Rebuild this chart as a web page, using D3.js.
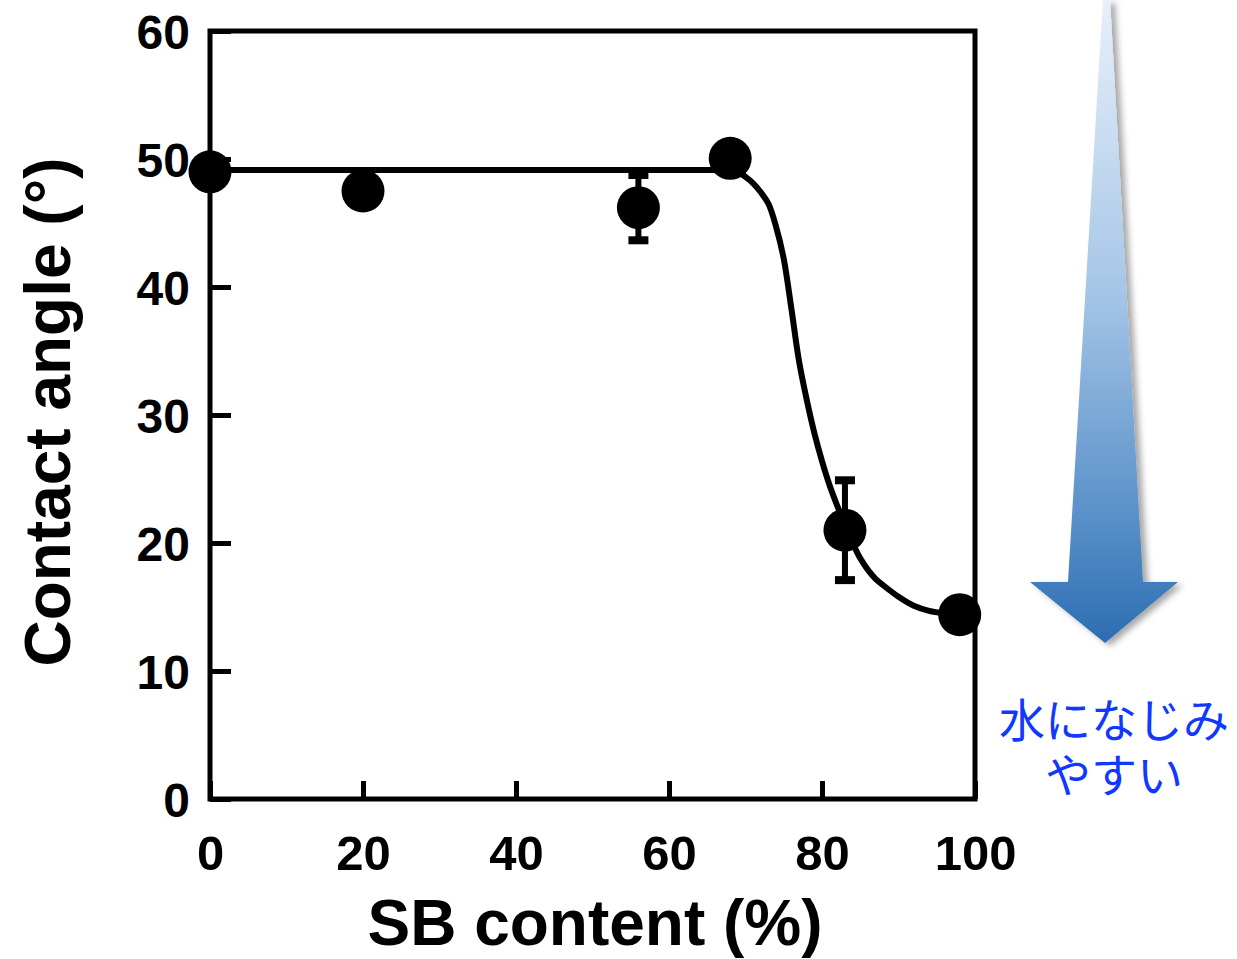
<!DOCTYPE html>
<html>
<head>
<meta charset="utf-8">
<script src="https://cdn.jsdelivr.net/npm/d3@7/dist/d3.min.js"></script>
<style>
  html, body { margin: 0; padding: 0; background: #fff; }
  svg { display: block; }
</style>
</head>
<body>
<svg id="chart" width="1237" height="959"></svg>
<script>
// ---- data ----
const sbContent = [0, 20, 56, 68, 83, 98];
const contactAngle = [49.0, 47.5, 46.2, 50.05, 21.0, 14.4];
const angleError = [0.8, 0.6, 2.55, 0.4, 3.9, 0.5];

const fitX = [0, 66, 68, 69, 70, 71, 72, 73, 74, 75, 76, 77, 78, 79, 80, 81, 82, 83, 84, 85, 86, 87, 88, 90, 92, 94, 96, 98];
const fitY = [49.15, 49.15, 49.15, 49.0, 48.6, 48.1, 47.4, 46.5, 44.7, 42.2, 38.3, 34.2, 31.2, 28.6, 26.4, 24.5, 22.9, 21.4, 20.0, 18.8, 17.9, 17.2, 16.7, 15.8, 15.1, 14.7, 14.5, 14.4];

const xTicks = [0, 20, 40, 60, 80, 100];
const yTicks = [0, 10, 20, 30, 40, 50, 60];

const xTitle = "SB content (%)";
const yTitle = "Contact angle (°)";
const noteLines = ["水になじみ", "やすい"];

// ---- layout ----
const svg = d3.select("#chart");
const pL = 210, pR = 975, pT = 31, pB = 799;
const x = d3.scaleLinear().domain([0, 100]).range([pL, pR]);
const y = d3.scaleLinear().domain([0, 60]).range([pB, pT]);
const font = "'Liberation Sans', Arial, Helvetica, sans-serif";

// ---- arrow (decorative) ----
const defs = svg.append("defs");
const grad = defs.append("linearGradient").attr("id", "arrowGrad")
  .attr("x1", 0).attr("y1", 0).attr("x2", 0).attr("y2", 1);
grad.append("stop").attr("offset", "0%").attr("stop-color", "#e8f0fa");
grad.append("stop").attr("offset", "45%").attr("stop-color", "#a6c6e7");
grad.append("stop").attr("offset", "80%").attr("stop-color", "#5a91c9");
grad.append("stop").attr("offset", "100%").attr("stop-color", "#2c6db2");
const filt = defs.append("filter").attr("id", "shadow")
  .attr("x", "-30%").attr("y", "-5%").attr("width", "160%").attr("height", "115%");
filt.append("feDropShadow").attr("dx", 5).attr("dy", 3).attr("stdDeviation", 3)
  .attr("flood-color", "#000").attr("flood-opacity", 0.35);

const arrowPts = [[1103, 0], [1110, 0], [1143, 582], [1178, 582], [1105, 643], [1030, 582], [1068, 582]];
svg.append("path")
  .attr("d", d3.line()(arrowPts) + "Z")
  .attr("fill", "url(#arrowGrad)")
  .attr("filter", "url(#shadow)");

noteLines.forEach((t, i) => {
  svg.append("text")
    .attr("font-family", "'Noto Sans CJK JP', sans-serif")
    .attr("font-size", 46)
    .attr("fill", "#1038ff")
    .attr("text-anchor", "middle")
    .attr("x", 1114).attr("y", 737 + i * 55).text(t);
});

// ---- axes (ticks point inward) ----
const xAxis = svg.append("g").attr("transform", `translate(0,${pB})`)
  .call(d3.axisBottom(x).tickValues(xTicks).tickSizeInner(-18).tickSizeOuter(0).tickFormat(d3.format("d")));
xAxis.select(".domain").remove();
xAxis.selectAll("line").attr("stroke", "#000").attr("stroke-width", 5);
xAxis.selectAll("text")
  .attr("y", 71).attr("dy", 0)
  .attr("font-family", font).attr("font-weight", "bold").attr("font-size", 49).attr("fill", "#000");

const yAxis = svg.append("g").attr("transform", `translate(${pL},0)`)
  .call(d3.axisLeft(y).tickValues(yTicks).tickSizeInner(-21).tickSizeOuter(0).tickFormat(d3.format("d")));
yAxis.select(".domain").remove();
yAxis.selectAll("line").attr("stroke", "#000").attr("stroke-width", 5);
yAxis.selectAll("text")
  .attr("x", -20).attr("dy", "0.36em")
  .attr("font-family", font).attr("font-weight", "bold").attr("font-size", 48).attr("fill", "#000");

// frame
svg.append("rect")
  .attr("x", pL).attr("y", pT).attr("width", pR - pL).attr("height", pB - pT)
  .attr("fill", "none").attr("stroke", "#000").attr("stroke-width", 5);

// titles
svg.append("text")
  .attr("x", 595).attr("y", 945).attr("text-anchor", "middle")
  .attr("font-family", font).attr("font-weight", "bold").attr("font-size", 64)
  .text(xTitle);
svg.append("text")
  .attr("transform", "translate(70,412) rotate(-90)")
  .attr("text-anchor", "middle")
  .attr("font-family", font).attr("font-weight", "bold").attr("font-size", 64)
  .text(yTitle);

// ---- fit curve ----
const fitData = fitX.map((v, i) => [v, fitY[i]]);
svg.append("path")
  .datum(fitData)
  .attr("d", d3.line().x(d => x(d[0])).y(d => y(d[1])).curve(d3.curveCatmullRom.alpha(0.5)))
  .attr("fill", "none").attr("stroke", "#000").attr("stroke-width", 6).attr("stroke-linejoin", "round");

// ---- error bars ----
const pts = sbContent.map((v, i) => ({ x: v, y: contactAngle[i], e: angleError[i] }));
const eb = svg.append("g");
pts.forEach(p => {
  eb.append("line")
    .attr("x1", x(p.x)).attr("x2", x(p.x))
    .attr("y1", y(p.y + p.e)).attr("y2", y(p.y - p.e))
    .attr("stroke", "#000").attr("stroke-width", 6);
  [p.y + p.e, p.y - p.e].forEach(v => {
    eb.append("line")
      .attr("x1", x(p.x) - 10).attr("x2", x(p.x) + 10)
      .attr("y1", y(v)).attr("y2", y(v))
      .attr("stroke", "#000").attr("stroke-width", 8);
  });
});

// ---- markers ----
svg.append("g").selectAll("circle").data(pts).join("circle")
  .attr("cx", d => x(d.x)).attr("cy", d => y(d.y)).attr("r", 21.5)
  .attr("fill", "#000");
</script>
</body>
</html>
